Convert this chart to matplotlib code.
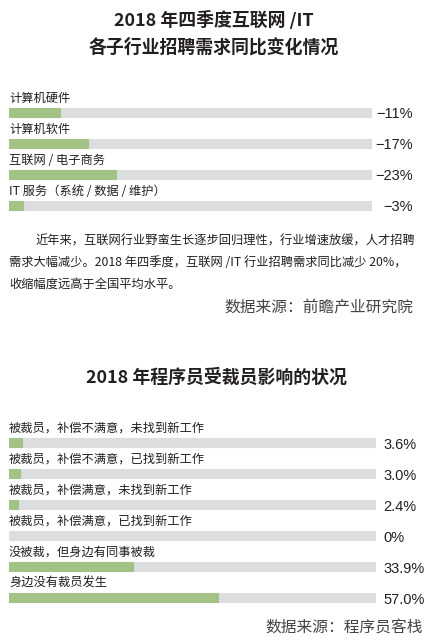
import matplotlib
matplotlib.use("Agg")
import matplotlib.pyplot as plt
import matplotlib.transforms as mtransforms

plt.rcParams['font.family'] = ['Noto Sans CJK SC', 'DejaVu Sans']

# data
top_title = "2018 年四季度互联网 /IT\n各子行业招聘需求同比变化情况"
top_labels = ["计算机硬件", "计算机软件", "互联网 / 电子商务", "IT 服务（系统 / 数据 / 维护）"]
top_values = [11, 17, 23, 3]
top_texts = ["\u221211%", "\u221217%", "\u221223%", "\u22123%"]

para_lines = [
    "近年来，互联网行业野蛮生长逐步回归理性，行业增速放缓，人才招聘",
    "需求大幅减少。2018 年四季度，互联网 /IT 行业招聘需求同比减少 20%，",
    "收缩幅度远高于全国平均水平。",
]
top_source = "数据来源：前瞻产业研究院"

bot_title = "2018 年程序员受裁员影响的状况"
bot_labels = ["被裁员，补偿不满意，未找到新工作", "被裁员，补偿不满意，已找到新工作",
              "被裁员，补偿满意，未找到新工作", "被裁员，补偿满意，已找到新工作",
              "没被裁，但身边有同事被裁", "身边没有裁员发生"]
bot_values = [3.6, 3.0, 2.4, 0, 33.9, 57.0]
bot_source = "数据来源：程序员客栈"

W, H = 428, 641
GREEN = "#a3c286"
GREY = "#dcdddf"
DARK = "#231f20"

fig = plt.figure(figsize=(W / 100, H / 100), dpi=100)


def fx(px):
    return px / W


def fy(py):
    return 1 - py / H


def axes_px(x0, x1, y0, y1):
    return fig.add_axes([fx(x0), fy(y1), fx(x1) - fx(x0), (y1 - y0) / H])


def bar_panel(ax, labels, values, vmax):
    n = len(labels)
    ys = list(range(n))
    ax.barh(ys, [vmax] * n, height=0.27, color=GREY, edgecolor=GREY,
            linewidth=1.5, joinstyle="round")
    for y, v in zip(ys, values):
        if v > 0:
            ax.barh(y, v, height=0.27, color=GREEN, edgecolor=GREEN,
                    linewidth=1.5, joinstyle="round")
    ax.set_xlim(0, vmax)
    ax.set_ylim(n - 0.5, -0.5)
    ax.axis("off")
    for i, lab in enumerate(labels):
        ax.text(0, i - 0.48, lab, ha="left", va="center", fontsize=8.8,
                color=DARK, fontweight="medium")


# top chart
fig.text(0.5, fy(34), top_title, ha="center", va="center", fontsize=12.9,
         fontweight="black", color=DARK, linespacing=1.55)
ax1 = axes_px(9, 372, 97.5, 221.5)
bar_panel(ax1, top_labels, top_values, 78)
tr1 = mtransforms.blended_transform_factory(ax1.transAxes, ax1.transData)
for i, t in enumerate(top_texts):
    ax1.text(1 + 41 / 363, i + 0.03, t, transform=tr1, ha="right", va="center",
             fontsize=10.5, color=DARK, family=["Liberation Sans", "DejaVu Sans"])

# paragraph
para_y = [241, 263, 284]
para_x = [35, 9, 9]
for x, y, line in zip(para_x, para_y, para_lines):
    fig.text(fx(x), fy(y), line, ha="left", va="center", fontsize=8.8,
             color=DARK, fontweight="medium")
fig.text(fx(413), fy(308), top_source, ha="right", va="center", fontsize=11.3, color="#444444")

# bottom chart
fig.text(fx(216), fy(378), bot_title, ha="center", va="center", fontsize=12.9,
         fontweight="black", color=DARK)
ax2 = axes_px(9, 376, 427.5, 613.5)
bar_panel(ax2, bot_labels, bot_values, 100)
tr2 = mtransforms.blended_transform_factory(ax2.transAxes, ax2.transData)
for i, v in enumerate(bot_values):
    t = "0%" if v == 0 else f"{v:.1f}%"
    ax2.text(1 + 7 / 367, i + 0.05, t, transform=tr2, ha="left", va="center",
             fontsize=10.5, color=DARK, family=["Liberation Sans", "DejaVu Sans"])
fig.text(fx(423), fy(628), bot_source, ha="right", va="center", fontsize=11.3, color="#444444")

fig.savefig("out.png", dpi=100, facecolor="white")
